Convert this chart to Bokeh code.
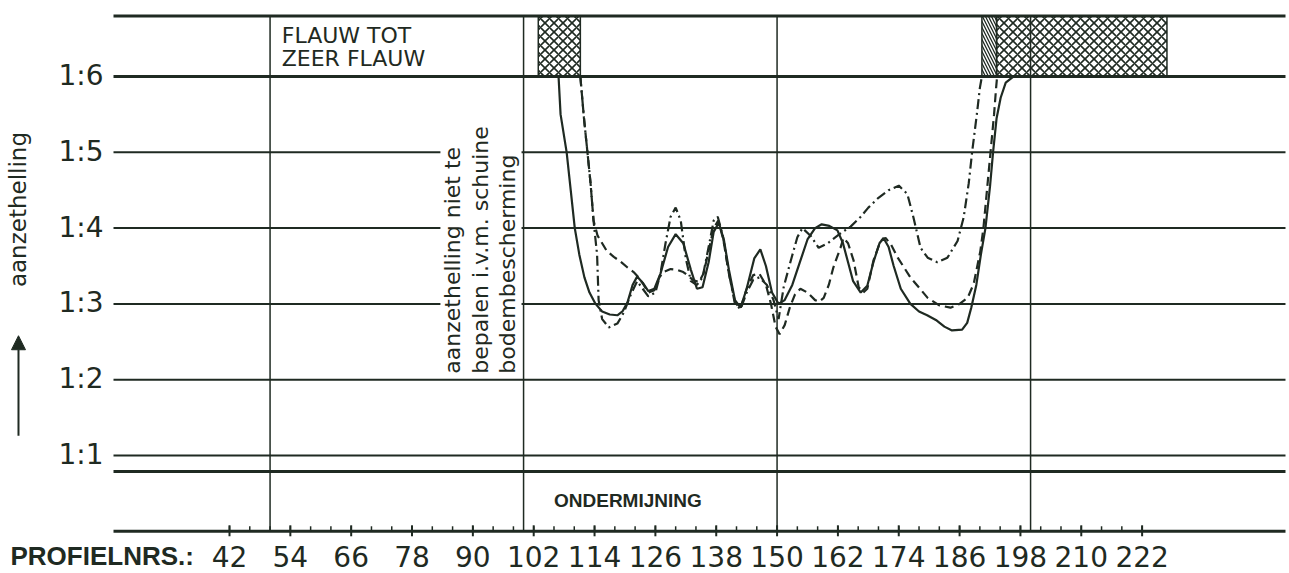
from math import pi

from bokeh.core.properties import value
from bokeh.embed import file_html
from bokeh.models import Arrow, NormalHead, Range1d
from bokeh.plotting import figure
from bokeh.resources import INLINE

INK = "#1f2a22"

# profile numbers along the bottom axis
profile_labels = [42, 54, 66, 78, 90, 102, 114, 126, 138, 150, 162, 174, 186, 198, 210, 222]
profile_minor = list(range(42, 223, 4))
section_lines = [50, 100, 150, 200]

# slope classes on the vertical axis
slope_levels = [1, 2, 3, 4, 5, 6]
slope_labels = ["1:1", "1:2", "1:3", "1:4", "1:5", "1:6"]
flat_top = 6.8           # upper border of the "flauw tot zeer flauw" band
undermining_line = 0.79  # border of the "ondermijning" band

# slope per profile, three measurements
solid_x = [106.9, 107.3, 108.5, 109.3, 110.1, 111.0, 112.0, 113.0, 114.2, 115.5, 117.0, 118.5,
           119.5, 120.5, 121.5, 122.4, 123.5, 124.6, 125.8, 127.0, 128.5, 130.0, 131.5, 133.0,
           134.2, 135.3, 136.5, 137.5, 138.5, 139.5, 140.5, 141.7, 142.8, 144.0, 145.5, 146.7,
           147.8, 149.0, 150.3, 151.5, 153.0, 154.5, 156.0, 157.5, 158.8, 160.3, 161.9, 163.0,
           164.0, 165.0, 166.5, 167.8, 169.0, 170.2, 171.0, 172.0, 173.0, 174.4, 176.3, 178.0,
           179.6, 181.5, 183.0, 184.5, 186.5, 187.5, 188.3, 189.3, 190.2, 191.1, 192.0, 192.6,
           193.3, 194.1, 195.1, 196.6]
solid_y = [6.0, 5.5, 5.0, 4.5, 4.0, 3.65, 3.35, 3.15, 3.0, 2.9, 2.86, 2.85,
           2.9, 3.02, 3.25, 3.36, 3.28, 3.17, 3.2, 3.4, 3.75, 3.92, 3.8, 3.45,
           3.2, 3.22, 3.55, 3.95, 4.07, 3.85, 3.45, 3.05, 2.95, 3.2, 3.6, 3.72,
           3.5, 3.15, 3.0, 3.05, 3.25, 3.55, 3.85, 4.0, 4.05, 4.03, 3.97, 3.8,
           3.55, 3.3, 3.15, 3.24, 3.55, 3.8, 3.87, 3.75, 3.5, 3.2, 3.0, 2.9,
           2.85, 2.78, 2.7, 2.65, 2.66, 2.75, 2.95, 3.25, 3.65, 4.0, 4.55, 5.0,
           5.45, 5.72, 5.92, 6.0]

dashed_x = [111.2, 111.9, 112.6, 113.2, 113.8, 114.6, 115.5, 116.4, 117.8, 119.1, 120.5, 121.7,
            122.7, 123.7, 124.6, 125.8, 126.8, 127.6, 129.0, 130.3, 131.5, 132.3, 133.5, 134.6,
            135.5, 136.5, 137.5, 138.4, 139.4, 140.5, 141.7, 142.8, 144.0, 145.3, 146.5, 147.8,
            148.8, 149.7, 150.5, 151.5, 152.5, 153.5, 154.6, 156.0, 157.5, 158.3, 159.2, 160.2,
            161.1, 162.5, 163.1, 164.0, 165.1, 166.1, 167.0, 167.8, 169.0, 170.4, 171.4, 172.5,
            173.8, 176.3, 179.7, 182.0, 184.2, 186.0, 187.6, 188.8, 190.1, 190.7, 191.4, 192.1,
            192.8, 193.2, 193.4]
dashed_y = [6.0, 5.46, 5.0, 4.6, 4.1, 3.9, 3.8, 3.7, 3.62, 3.56, 3.48, 3.42,
            3.35, 3.25, 3.15, 3.18, 3.35, 3.42, 3.46, 3.45, 3.42, 3.38, 3.31, 3.29,
            3.4, 3.7, 4.0, 4.1, 3.85, 3.4, 3.02, 2.94, 3.2, 3.38, 3.4, 3.25,
            3.0, 2.7, 2.6, 2.72, 2.95, 3.12, 3.2, 3.15, 3.05, 3.03, 3.08, 3.25,
            3.48, 3.74, 3.87, 3.8, 3.57, 3.22, 3.15, 3.2, 3.57, 3.83, 3.87, 3.78,
            3.61, 3.35, 3.08, 2.98, 2.95, 3.0, 3.08, 3.27, 3.7, 4.0, 4.5, 5.0,
            5.5, 5.85, 6.0]

dashdot_x = [111.2, 111.9, 112.6, 113.2, 113.8, 114.5, 114.8, 115.5, 116.8, 118.5, 119.8, 121.0,
             122.4, 123.5, 124.6, 126.0, 127.0, 128.0, 129.0, 130.0, 131.0, 132.0, 133.0, 134.2,
             135.3, 136.5, 137.5, 138.3, 139.3, 140.5, 141.7, 142.8, 144.0, 145.3, 146.5, 148.0,
             149.3, 150.3, 151.3, 152.7, 154.0, 155.0, 156.6, 158.2, 160.0, 162.3, 164.5, 166.5,
             168.0, 170.0, 172.0, 174.0, 175.7, 176.9, 178.3, 179.7, 181.6, 183.6, 185.6, 186.8,
             187.8, 188.5, 189.4, 190.0, 190.4]
dashdot_y = [6.0, 5.46, 5.0, 4.6, 4.1, 3.65, 3.05, 2.8, 2.69, 2.74, 2.89, 3.1,
             3.3, 3.2, 3.1, 3.15, 3.4, 3.8, 4.15, 4.27, 4.1, 3.6, 3.3, 3.25,
             3.35, 3.75, 4.1, 4.15, 3.9, 3.4, 3.0, 2.93, 3.15, 3.32, 3.35, 3.25,
             3.05, 2.8, 3.22, 3.57, 3.88, 4.0, 3.9, 3.74, 3.8, 3.92, 4.02, 4.15,
             4.27, 4.4, 4.5, 4.56, 4.45, 4.14, 3.74, 3.61, 3.55, 3.61, 3.83, 4.14,
             4.59, 5.02, 5.5, 5.85, 6.0]

# stretches where the slope falls in the "flauw" band
cross_left = [102.9, 193.3]
cross_right = [111.2, 226.9]
diag_left = [190.4]
diag_right = [193.3]

# drawing extent of the diagram (profile units / slope units)
AX_LEFT, AX_RIGHT = 19.12, 250.28
PX_X = 1 / 5.07    # one screen pixel in profile units
PX_Y = 1 / 75.8    # one screen pixel in slope units

p = figure(width=1289, height=573, title=None, toolbar_location=None, output_backend="svg",
           x_range=Range1d(-3.168, 251.07), y_range=Range1d(-0.557, 7.003),
           x_axis_location=None, y_axis_location=None, min_border=0)
p.outline_line_color = None
p.background_fill_color = "white"
p.border_fill_color = "white"
p.grid.visible = False

# horizontal class lines
n = len(slope_levels) - 1
p.segment(x0=[AX_LEFT] * n, y0=slope_levels[:-1], x1=[AX_RIGHT] * n, y1=slope_levels[:-1],
          line_color=INK, line_width=2)
heavy = [slope_levels[-1], flat_top, undermining_line]
p.segment(x0=[AX_LEFT] * 3, y0=heavy, x1=[AX_RIGHT] * 3, y1=heavy, line_color=INK, line_width=3)

# vertical section lines
p.segment(x0=section_lines, y0=[0] * len(section_lines), x1=section_lines,
          y1=[flat_top] * len(section_lines), line_color=INK, line_width=1.5)

# bottom axis with profile numbers
p.segment(x0=[AX_LEFT], y0=[0], x1=[AX_RIGHT], y1=[0], line_color=INK, line_width=3)
p.segment(x0=profile_minor, y0=[0] * len(profile_minor), x1=profile_minor,
          y1=[5 * PX_Y] * len(profile_minor), line_color=INK, line_width=1.5)
p.segment(x0=profile_labels, y0=[-5 * PX_Y] * len(profile_labels), x1=profile_labels,
          y1=[6 * PX_Y] * len(profile_labels), line_color=INK, line_width=2)
label_row = -25 * PX_Y
p.text(x=profile_labels, y=[label_row] * len(profile_labels),
       text=[str(v) for v in profile_labels], text_align="center", text_baseline="middle",
       text_font=value("DejaVu Sans"), text_font_size="28px", text_color=INK)
p.text(x=[-1.2], y=[label_row], text=["PROFIELNRS.:"], text_align="left",
       text_baseline="middle", text_font=value("Liberation Sans"), text_font_style="bold",
       text_font_size="26px", text_color=INK)

# slope class labels
p.text(x=[AX_LEFT - 10 * PX_X] * len(slope_levels), y=[v + 1 * PX_Y for v in slope_levels],
       text=slope_labels, text_align="right", text_baseline="middle",
       text_font=value("DejaVu Sans"), text_font_size="28px", text_color=INK)
p.text(x=[0.38], y=[4.245], text=["aanzethelling"], angle=pi / 2, text_align="center",
       text_baseline="middle", text_font=value("DejaVu Sans"), text_font_size="23px",
       text_color=INK)
p.add_layout(Arrow(end=NormalHead(size=14, fill_color=INK, line_color=INK), x_start=0.38,
                   y_start=1.26, x_end=0.38, y_end=2.58, line_color=INK, line_width=2))

# hatched bands
p.quad(left=cross_left, right=cross_right, bottom=slope_levels[-1], top=flat_top,
       fill_alpha=0, hatch_pattern="diagonal_cross", hatch_scale=9, hatch_weight=1.6,
       hatch_color=INK, line_color=INK, line_width=1.5)
p.quad(left=diag_left, right=diag_right, bottom=slope_levels[-1], top=flat_top,
       fill_alpha=0, hatch_pattern="left_diagonal_line", hatch_scale=6, hatch_weight=1.3,
       hatch_color=INK, line_color=INK, line_width=1.5)

# note on the sections that could not be measured
p.quad(left=[83.6], right=[99.6], bottom=[2.04], top=[5.15], fill_color="white", line_color=None)
p.text(x=[86.0, 91.5, 96.8], y=[2.08] * 3,
       text=["aanzethelling niet te", "bepalen i.v.m. schuine", "bodembescherming"],
       angle=pi / 2, text_align="left", text_baseline="middle",
       text_font=value("DejaVu Sans"), text_font_size="22px", text_color=INK)

# measured slopes
p.line(solid_x, solid_y, line_color=INK, line_width=2.2)
p.line(dashed_x, dashed_y, line_color=INK, line_width=2.2, line_dash="9 5")
p.line(dashdot_x, dashdot_y, line_color=INK, line_width=2.2, line_dash="10 4 2 4")

# band captions
p.text(x=[52.3, 52.3], y=[6.54, 6.24], text=["FLAUW TOT", "ZEER FLAUW"], text_align="left",
       text_baseline="middle", text_font=value("DejaVu Sans"), text_font_size="22px",
       text_color=INK)
p.text(x=[106.0], y=[0.41], text=["ONDERMIJNING"], text_align="left", text_baseline="middle",
       text_font=value("Liberation Sans"), text_font_style="bold", text_font_size="19px",
       text_color=INK)

open("out.html", "w").write(file_html(p, INLINE))
